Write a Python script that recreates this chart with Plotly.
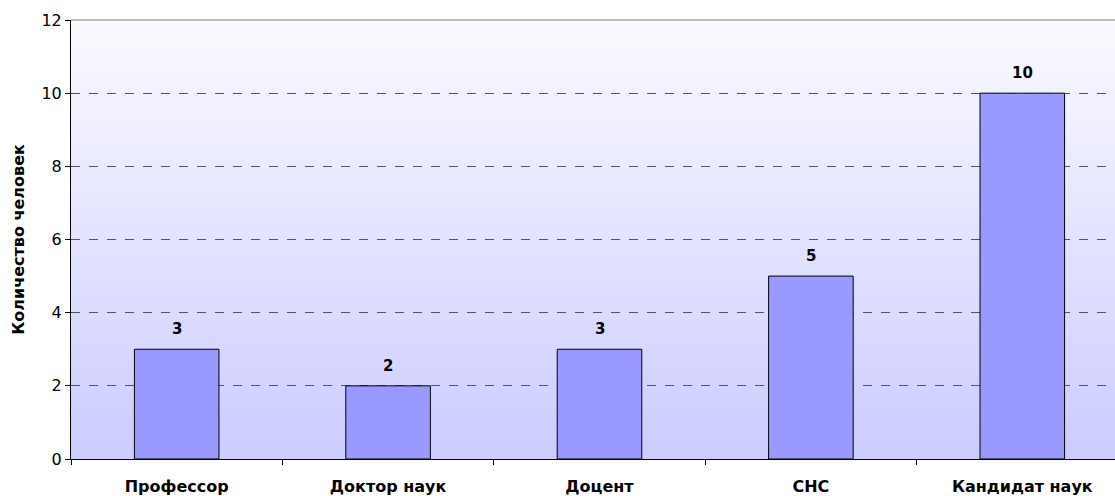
import plotly.graph_objects as go

categories = ["Профессор", "Доктор наук", "Доцент", "СНС", "Кандидат наук"]
values = [3, 2, 3, 5, 10]
y_ticks = [0, 2, 4, 6, 8, 10, 12]

FONT = "DejaVu Sans, Verdana, sans-serif"

fig = go.Figure()
fig.add_trace(go.Bar(
    x=categories, y=values, width=0.4,
    marker=dict(color="#9999ff", line=dict(color="#000000", width=1)),
    hoverinfo="x+y",
))

# gradient background (white-ish at top to lavender at bottom)
shapes = []
n = 80
top = (250, 250, 255)
bot = (204, 204, 255)
for i in range(n):
    t = i / (n - 1)
    c = tuple(round(bot[k] + (top[k] - bot[k]) * t) for k in range(3))
    shapes.append(dict(
        type="rect", xref="x domain", yref="y domain",
        x0=0, x1=1, y0=i / n, y1=(i + 1) / n + 0.002,
        fillcolor="rgb(%d,%d,%d)" % c, line=dict(width=0), layer="below",
    ))
shapes.append(dict(type="line", xref="x domain", yref="y domain",
                   x0=0, x1=1, y0=1, y1=1,
                   line=dict(color="#a8a8a8", width=1.5)))

annotations = [
    dict(x=c, y=v, text="<b>%d</b>" % v, showarrow=False, yshift=20,
         font=dict(family=FONT, size=15, color="#000000"))
    for c, v in zip(categories, values)
]

fig.update_layout(
    width=1115, height=496,
    margin=dict(l=71, r=0, t=20, b=37),
    paper_bgcolor="#ffffff",
    plot_bgcolor="rgba(0,0,0,0)",
    showlegend=False,
    bargap=0.6,
    shapes=shapes,
    annotations=annotations,
    font=dict(family=FONT, size=15, color="#000000"),
)
fig.update_xaxes(
    range=[-0.5, 4.4385],
    showline=True, linecolor="#000000", linewidth=1,
    ticks="outside", ticklen=5, tickcolor="#000000", tickson="boundaries",
    showgrid=False,
    tickfont=dict(family=FONT, size=16, color="#000000"),
    tickvals=categories, ticktext=["<b>%s</b>" % c for c in categories],
    ticklabelstandoff=13,
)
fig.update_yaxes(
    range=[0, 12], tickvals=y_ticks,
    showline=True, linecolor="#000000", linewidth=1,
    ticks="outside", ticklen=5, tickcolor="#000000",
    showgrid=True, gridcolor="#555555", griddash="dash", gridwidth=1,
    zeroline=False,
    tickfont=dict(family=FONT, size=16, color="#000000"),
    title=dict(text="<b>Количество человек</b>", standoff=12,
               font=dict(family=FONT, size=16, color="#000000")),
)

fig.write_html("out.html", config={"displayModeBar": False},
               post_script="document.body.style.margin='0';")
